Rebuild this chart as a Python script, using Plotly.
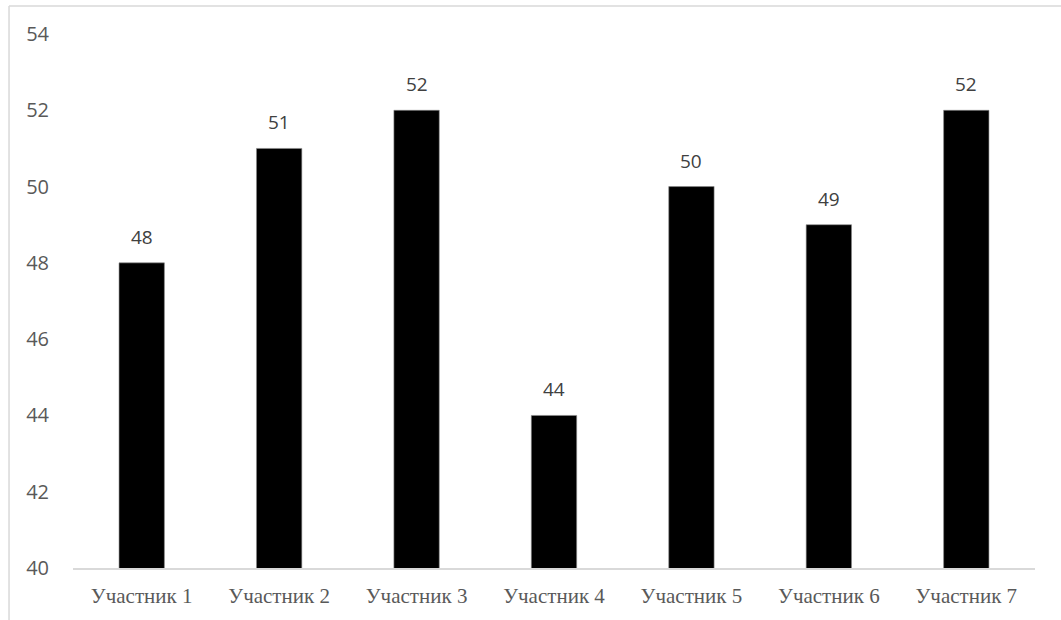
import plotly.graph_objects as go

categories = ["Участник 1", "Участник 2", "Участник 3", "Участник 4", "Участник 5", "Участник 6", "Участник 7"]
values = [48, 51, 52, 44, 50, 49, 52]
y_ticks = [40, 42, 44, 46, 48, 50, 52, 54]

fig = go.Figure()
fig.add_trace(go.Bar(
    x=categories, y=values,
    marker=dict(color="#000000", line=dict(color="#8c8c8c", width=0.6)),
    hoverinfo="skip",
))

for c, v in zip(categories, values):
    fig.add_annotation(x=c, y=v, text=str(v), showarrow=False, yanchor="bottom",
                       yshift=11, font=dict(family="Open Sans", size=19, color="#404040"))

fig.update_layout(
    width=1061, height=620,
    margin=dict(l=73, r=26, t=34, b=52),
    paper_bgcolor="white", plot_bgcolor="white",
    bargap=0.67,
    showlegend=False,
    xaxis=dict(showgrid=False, showline=True, linecolor="#d9d9d9", linewidth=1.5,
               ticks="", tickfont=dict(family="Liberation Serif", size=21, color="#595959"),
               ticklabelstandoff=8),
    yaxis=dict(range=[40, 54], tickvals=y_ticks, showgrid=False, zeroline=False,
               showline=False, ticks="",
               tickfont=dict(family="Open Sans", size=20, color="#595959"),
               ticklabelstandoff=23),
    shapes=[
        dict(type="line", xref="paper", yref="paper", x0=-0.0665, x1=1.1, y0=1.0524, y1=1.0524,
             line=dict(color="#d9d9d9", width=1.5)),
        dict(type="line", xref="paper", yref="paper", x0=-0.0665, x1=-0.0665, y0=1.0524, y1=-0.2,
             line=dict(color="#d9d9d9", width=1.5)),
    ],
)

fig.write_html("out.html")
